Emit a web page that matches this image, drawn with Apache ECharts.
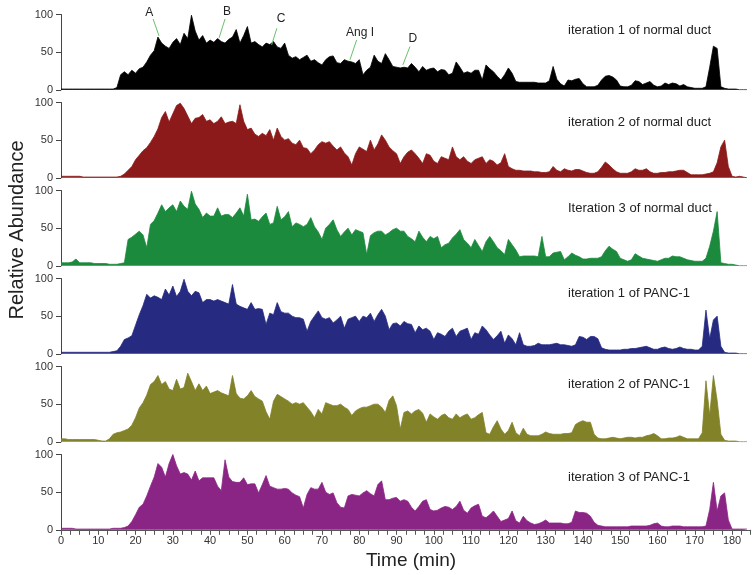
<!DOCTYPE html>
<html><head><meta charset="utf-8">
<script src="https://cdn.jsdelivr.net/npm/echarts@6/dist/echarts.min.js"></script>
<style>html,body{margin:0;padding:0;background:#fff}#c{width:754px;height:575px}</style>
</head><body><div id="c"></div>
<script>
// Retention time (min), one sample per minute
const timeStart = 0, timeCount = 185;
const xTickLabels = [0,10,20,30,40,50,60,70,80,90,100,110,120,130,140,150,160,170,180];
const yTickLabels = [0,50,100];
const panelTitles = ['iteration 1 of normal duct','iteration 2 of normal duct','Iteration 3 of normal duct','iteration 1 of PANC-1','iteration 2 of PANC-1','iteration 3 of PANC-1'];

const normal1 = [1,1,1,1,1,1,1,1,1,1,1,1,1,1,1,
3,20,24,20,26,
22,28,30,37,46,52,70,62,58,55,
63,68,60,75,68,99,78,66,72,62,
66,63,68,64,62,67,70,80,62,72,
84,62,64,60,57,62,60,64,57,55,
62,46,42,44,40,43,46,38,40,36,
33,40,44,45,36,35,40,38,37,35,
40,20,26,30,46,38,35,48,40,31,
30,29,30,29,35,30,24,31,26,28,
29,24,27,26,20,22,37,30,22,24,
22,26,26,13,33,28,24,18,13,20,
29,22,11,10,10,10,10,10,9,9,
9,12,31,14,8,5,13,12,14,15,
8,4,4,4,6,13,18,19,17,13,
5,4,4,6,12,11,7,9,11,6,
4,5,9,7,9,8,5,7,4,3,
2,2,2,4,30,58,55,4,2,1,
1,1,0,0,0];

const normal2 = [2,2,2,2,2,2,1,1,1,1,
1,1,1,1,1,1,2,5,10,15,
24,30,36,40,47,55,65,80,88,74,
85,96,99,92,82,72,79,80,84,75,
77,72,75,81,72,74,75,72,97,75,
64,66,58,55,59,56,64,50,66,55,
50,52,46,44,50,40,39,32,37,44,
48,46,48,42,37,41,33,28,17,32,
41,38,35,50,37,45,57,50,41,36,
32,19,28,34,37,32,26,19,32,30,
22,19,28,26,24,41,28,24,28,22,
19,24,26,28,19,24,22,17,20,32,
15,12,10,10,9,9,9,8,8,7,
7,8,15,10,8,12,10,9,11,11,
9,7,6,6,8,14,21,17,12,8,
6,6,6,8,12,10,10,12,8,6,
6,7,7,8,8,9,10,10,7,4,
4,4,4,5,6,8,20,41,50,15,
2,1,2,1,0];

const normal3 = [4,4,4,5,9,4,4,4,4,3,
3,3,3,2,2,2,3,4,35,38,
42,46,41,24,55,60,70,81,72,77,
81,72,86,79,75,99,82,75,64,70,
66,66,77,66,68,68,64,70,77,66,
95,61,62,59,65,70,55,57,79,61,
65,72,52,57,55,52,55,64,52,45,
35,50,55,61,48,39,45,50,41,48,
46,44,15,40,44,46,46,41,44,48,
50,46,46,39,36,32,46,38,32,39,
36,39,24,28,30,37,42,48,35,30,
24,35,27,19,32,39,32,24,20,15,
35,28,21,12,13,13,13,13,12,39,
12,12,17,18,19,8,12,17,14,12,
9,9,10,10,10,12,20,26,22,19,
10,8,6,8,16,13,10,9,8,7,
6,8,10,10,13,12,12,10,8,7,
6,6,6,10,26,46,72,4,3,2,
2,1,0,0,0];

const panc1 = [2,2,2,2,2,2,2,2,2,2,
2,2,2,2,3,4,10,19,21,24,
38,52,64,79,74,77,75,72,86,78,
90,76,83,99,83,77,83,81,68,72,
72,70,72,70,68,66,92,66,63,61,
59,68,59,60,59,39,54,52,68,56,
54,54,50,48,48,46,30,43,50,57,
48,46,48,41,45,50,34,46,48,50,
43,50,48,54,43,52,59,50,32,40,
41,37,43,40,39,28,37,32,34,30,
19,28,26,23,30,34,23,30,32,34,
19,28,26,37,32,25,19,24,30,14,
25,20,12,28,12,10,10,11,14,12,
12,12,13,14,12,12,11,10,12,23,
22,19,23,23,20,8,6,5,5,5,
5,6,6,7,7,8,9,10,8,6,
6,8,9,7,6,7,9,7,6,6,
5,5,10,58,20,45,50,10,2,1,
1,1,0,0,0];

const panc2 = [4,4,3,3,3,3,3,3,3,3,
2,1,1,4,10,12,13,15,17,22,
32,45,52,62,76,80,88,76,80,70,
68,83,70,72,91,80,68,77,68,74,
64,66,68,65,63,61,88,64,58,57,
61,68,60,57,54,40,30,54,63,60,
57,54,50,52,50,52,46,40,32,43,
37,52,50,48,48,50,46,43,35,41,
44,46,46,48,50,50,46,39,55,61,
48,17,39,41,37,41,43,38,26,37,
33,30,35,37,32,30,37,32,35,37,
30,32,36,39,12,10,20,28,17,10,
15,26,12,8,18,10,8,8,8,10,
13,11,10,10,10,11,11,12,23,26,
28,26,26,10,5,4,4,5,6,5,
4,5,6,6,5,6,6,8,9,11,
8,4,4,5,5,6,8,6,4,4,
4,4,12,81,35,88,55,10,2,1,
1,1,0,0,0];

const panc3 = [2,2,2,2,1,1,1,1,1,1,
1,1,1,1,2,2,2,3,5,11,
20,30,34,45,58,70,88,83,70,88,
100,85,74,76,74,66,78,65,69,69,
69,69,58,52,93,70,64,63,63,69,
60,61,61,49,60,72,58,56,54,54,
55,54,49,46,44,29,47,56,54,54,
63,50,47,49,36,30,29,45,47,46,
45,49,52,48,45,60,65,40,40,42,
43,38,40,38,30,25,31,38,40,27,
25,26,29,31,30,27,31,38,26,22,
29,32,34,18,16,20,25,18,11,13,
15,25,12,9,18,12,9,7,8,10,
13,9,9,9,9,8,8,10,25,23,
23,22,18,10,6,5,4,4,4,4,
4,4,4,5,5,5,5,5,6,8,
9,5,4,4,5,5,5,4,4,4,
4,4,4,5,27,63,25,45,49,13,
1,1,1,1,1];

const seriesValues = [normal1, normal2, normal3, panc1, panc2, panc3];
const seriesColors = ['#000000','#8c1a1a','#1b8a3c','#262a80','#828228','#8b2585'];

// annotation peaks in panel 1 (data coords: minute, abundance)
const annotations = [
  {label:'A', text:[23.7,102.4], line:[[24.7,94],[26.3,71.5]]},
  {label:'B', text:[44.5,103.7], line:[[44.0,94],[42.4,69]]},
  {label:'C', text:[59.0,95], line:[[57.9,81.7],[56.5,59.6]]},
  {label:'Ang I', text:[80.2,76.4], line:[[79.3,66.2],[77.5,39.7]]},
  {label:'D', text:[94.4,68.5], line:[[93.6,57.4],[91.7,33.1]]}
];

const times = seriesValues[0].map((_, i) => timeStart + i);
const FONT = 'Liberation Sans, Arial, sans-serif';
const titleTops = [24, 116, 202, 287, 378, 471];

const grids = [], xAxes = [], yAxes = [], series = [];
seriesValues.forEach((vals, i) => {
  const last = i === seriesValues.length - 1;
  grids.push({left: 61, width: 689.7, top: 14.5 + 88 * i, height: 75.3});
  xAxes.push({
    type: 'value', gridIndex: i, min: 0, max: 185, interval: 10,
    axisLine: {show: last, onZero: false, lineStyle: {color: '#555', width: 1}},
    axisTick: {show: last, length: 5, lineStyle: {color: '#555'}},
    minorTick: {show: last, splitNumber: 4, length: 5, lineStyle: {color: '#555'}},
    axisLabel: {show: last, fontSize: 11, color: '#333', fontFamily: FONT, margin: 6,
      formatter: v => xTickLabels.indexOf(v) >= 0 ? String(v) : ''},
    splitLine: {show: false}
  });
  yAxes.push({
    type: 'value', gridIndex: i, min: yTickLabels[0], max: yTickLabels[2], interval: 50,
    axisLine: {show: true, lineStyle: {color: '#444', width: 1}},
    axisTick: {show: true, length: 5, lineStyle: {color: '#444'}},
    axisLabel: {fontSize: 11, color: '#333', fontFamily: FONT, margin: 8},
    splitLine: {show: false}
  });
  series.push({
    type: 'line', xAxisIndex: i, yAxisIndex: i,
    data: times.map((t, j) => [t, vals[j]]),
    showSymbol: false, symbol: 'none', silent: true,
    lineStyle: {color: seriesColors[i], width: 0.8},
    areaStyle: {color: seriesColors[i], opacity: 1},
    z: 2
  });
});

const chart = echarts.init(document.getElementById('c'), null, {renderer: 'canvas'});
chart.setOption({
  animation: false,
  backgroundColor: '#fff',
  title: panelTitles.map((t, i) => ({
    text: t, left: 568, top: titleTops[i], padding: 0,
    textStyle: {fontSize: 13, fontWeight: 'normal', color: '#222', fontFamily: FONT}
  })),
  grid: grids, xAxis: xAxes, yAxis: yAxes, series: series
});

const graphics = [
  {type: 'text', x: 17, y: 230, rotation: Math.PI / 2,
   style: {text: 'Relative Abundance', font: '20px ' + FONT, fill: '#222', textAlign: 'center', textVerticalAlign: 'middle'}},
  {type: 'text', x: 411, y: 561,
   style: {text: 'Time (min)', font: '19px ' + FONT, fill: '#222', textAlign: 'center', textVerticalAlign: 'middle'}}
];
annotations.forEach(a => {
  const p = chart.convertToPixel({gridIndex: 0}, a.text);
  const l0 = chart.convertToPixel({gridIndex: 0}, a.line[0]);
  const l1 = chart.convertToPixel({gridIndex: 0}, a.line[1]);
  graphics.push({type: 'text', x: p[0], y: p[1], z: 10,
    style: {text: a.label, font: '12px ' + FONT, fill: '#222', textAlign: 'center', textVerticalAlign: 'middle'}});
  graphics.push({type: 'line', z: 10, shape: {x1: l0[0], y1: l0[1], x2: l1[0], y2: l1[1]},
    style: {stroke: '#6cbf6c', lineWidth: 1}});
});
chart.setOption({graphic: graphics});
</script></body></html>
